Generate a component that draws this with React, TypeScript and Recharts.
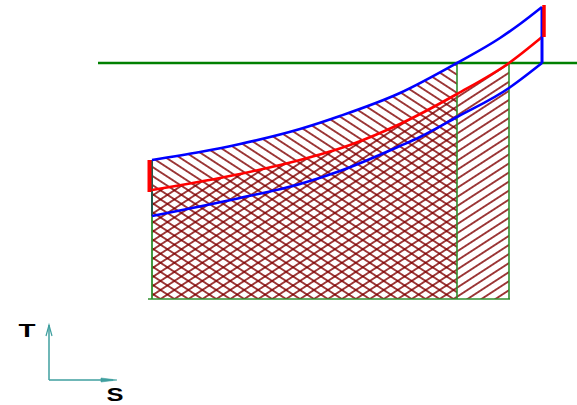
import React from 'react';
import { ComposedChart, Area, Line, XAxis, YAxis, ReferenceLine } from 'recharts';

// Entropy (S) and temperature (T) of the three cycle curves, arbitrary units
const upperS = [0, 4.8, 8.8, 14.8, 18.8, 24.8, 30.5, 34.8, 36.8, 39.0];
const upperT = [13.9, 14.7, 15.5, 17.0, 18.3, 20.6, 23.6, 26.1, 27.5, 29.2];

const redS = [0, 8.8, 14.8, 19.8, 24.8, 30.5, 35.7, 39.0];
const redT = [10.9, 12.5, 13.9, 15.4, 17.5, 20.5, 23.6, 26.2];

const lowerS = [0, 8.8, 14.8, 18.8, 24.8, 26.8, 30.5, 35.7, 36.8, 39.0];
const lowerT = [8.3, 10.1, 11.5, 12.8, 15.3, 16.2, 18.2, 21.1, 21.9, 23.6];

// key levels
const S_LEFT = 0;
const S_MID = 30.5;
const S_RIGHT = 35.7;
const S_END = 39.0;
const T_BASE = 0;
const T_HOT = 23.6;

const toPts = (s: number[], t: number[]) => s.map((v, i) => ({ s: v, t: t[i] }));
const upper = toPts(upperS, upperT);
const red = toPts(redS, redT);
const lower = toPts(lowerS, lowerT);
const upperHatch = upper.filter((p) => p.s <= S_MID);
const redHatch = red.filter((p) => p.s <= S_RIGHT);

const HATCH = '#800000';
const GREEN = '#2e8f2e';
const TEAL = '#3f9f9f';

const ArrowUp = (p: any) => {
  const x = p.x1;
  const top = Math.min(p.y1, p.y2);
  const bot = Math.max(p.y1, p.y2);
  return (
    <g>
      <line x1={x} y1={bot} x2={x} y2={top} stroke={TEAL} strokeWidth={1.5} />
      <polyline points={`${x - 3},${top + 11} ${x},${top} ${x + 3},${top + 11}`} fill="none" stroke={TEAL} strokeWidth={1.2} />
      <text x={x - 22} y={top + 12} fontFamily="'Liberation Sans', Arial, sans-serif" fontWeight="bold" fontSize={19} textLength={17} lengthAdjust="spacingAndGlyphs" textAnchor="middle">T</text>
    </g>
  );
};

const ArrowRight = (p: any) => {
  const y = p.y1;
  const left = Math.min(p.x1, p.x2);
  const right = Math.max(p.x1, p.x2);
  return (
    <g>
      <line x1={left} y1={y} x2={right - 4} y2={y} stroke={TEAL} strokeWidth={1.5} />
      <polygon points={`${right - 16},${y - 2} ${right},${y} ${right - 16},${y + 2}`} fill={TEAL} stroke={TEAL} strokeWidth={0.6} />
      <text x={right - 2} y={y + 21} fontFamily="'Liberation Sans', Arial, sans-serif" fontWeight="bold" fontSize={19} textLength={17} lengthAdjust="spacingAndGlyphs" textAnchor="middle">S</text>
    </g>
  );
};

export default function App() {
  return (
    <div style={{ position: 'absolute', left: 0, top: 0, width: 577, height: 405, background: '#fff' }}>
      <ComposedChart width={577} height={405} margin={{ top: 0, right: 0, bottom: 0, left: 0 }}>
        <defs>
          <pattern id="hatchBack" patternUnits="userSpaceOnUse" width="10" height="7.6" patternTransform="rotate(33)">
            <line x1="0" y1="3.8" x2="10" y2="3.8" stroke={HATCH} strokeWidth="1.5" />
          </pattern>
          <pattern id="hatchFwd" patternUnits="userSpaceOnUse" width="10" height="7.6" patternTransform="rotate(-33)">
            <line x1="0" y1="3.8" x2="10" y2="3.8" stroke={HATCH} strokeWidth="1.5" />
          </pattern>
        </defs>
        <XAxis type="number" dataKey="s" domain={[-15.2, 42.5]} allowDataOverflow hide />
        <YAxis type="number" dataKey="t" domain={[-10.6, 29.9]} allowDataOverflow hide />

        <Area data={upperHatch} dataKey="t" type="monotone" baseValue={T_BASE} fill="url(#hatchBack)" fillOpacity={1} stroke="none" dot={false} activeDot={false} isAnimationActive={false} />
        <Area data={redHatch} dataKey="t" type="monotone" baseValue={T_BASE} fill="url(#hatchFwd)" fillOpacity={1} stroke="none" dot={false} activeDot={false} isAnimationActive={false} />

        <ReferenceLine segment={[{ x: -5.4, y: T_HOT }, { x: 42.5, y: T_HOT }]} stroke="#008000" strokeWidth={2.5} ifOverflow="visible" />
        <ReferenceLine segment={[{ x: -0.4, y: T_BASE }, { x: 35.8, y: T_BASE }]} stroke={GREEN} strokeWidth={1.6} ifOverflow="visible" />
        <ReferenceLine segment={[{ x: S_MID, y: T_BASE }, { x: S_MID, y: T_HOT }]} stroke={GREEN} strokeWidth={1.6} ifOverflow="visible" />
        <ReferenceLine segment={[{ x: S_RIGHT, y: T_BASE }, { x: S_RIGHT, y: T_HOT }]} stroke={GREEN} strokeWidth={1.6} ifOverflow="visible" />
        <ReferenceLine segment={[{ x: S_LEFT, y: T_BASE }, { x: S_LEFT, y: lowerT[0] }]} stroke={GREEN} strokeWidth={1.8} ifOverflow="visible" />
        <ReferenceLine segment={[{ x: S_LEFT, y: lowerT[0] }, { x: S_LEFT, y: upperT[0] }]} stroke="#1f5a4a" strokeWidth={2} ifOverflow="visible" />

        <Line data={upper} dataKey="t" type="monotone" stroke="#0000ff" strokeWidth={2.6} dot={false} activeDot={false} isAnimationActive={false} />
        <Line data={lower} dataKey="t" type="monotone" stroke="#0000ff" strokeWidth={2.6} dot={false} activeDot={false} isAnimationActive={false} />
        <Line data={red} dataKey="t" type="monotone" stroke="#ff0000" strokeWidth={2.6} dot={false} activeDot={false} isAnimationActive={false} />

        <ReferenceLine segment={[{ x: S_END, y: lowerT[lowerT.length - 1] }, { x: S_END, y: upperT[upperT.length - 1] }]} stroke="#0000ff" strokeWidth={3} ifOverflow="visible" />
        <ReferenceLine segment={[{ x: S_END + 0.2, y: redT[redT.length - 1] }, { x: S_END + 0.2, y: 29.4 }]} stroke="#ff0000" strokeWidth={3.5} ifOverflow="visible" />
        <ReferenceLine segment={[{ x: -0.25, y: 10.7 }, { x: -0.25, y: upperT[0] }]} stroke="#ff0000" strokeWidth={4} ifOverflow="visible" />

        <ReferenceLine segment={[{ x: -10.3, y: -8.1 }, { x: -10.3, y: -2.6 }]} shape={ArrowUp} ifOverflow="visible" />
        <ReferenceLine segment={[{ x: -10.3, y: -8.1 }, { x: -3.5, y: -8.1 }]} shape={ArrowRight} ifOverflow="visible" />
      </ComposedChart>
    </div>
  );
}
